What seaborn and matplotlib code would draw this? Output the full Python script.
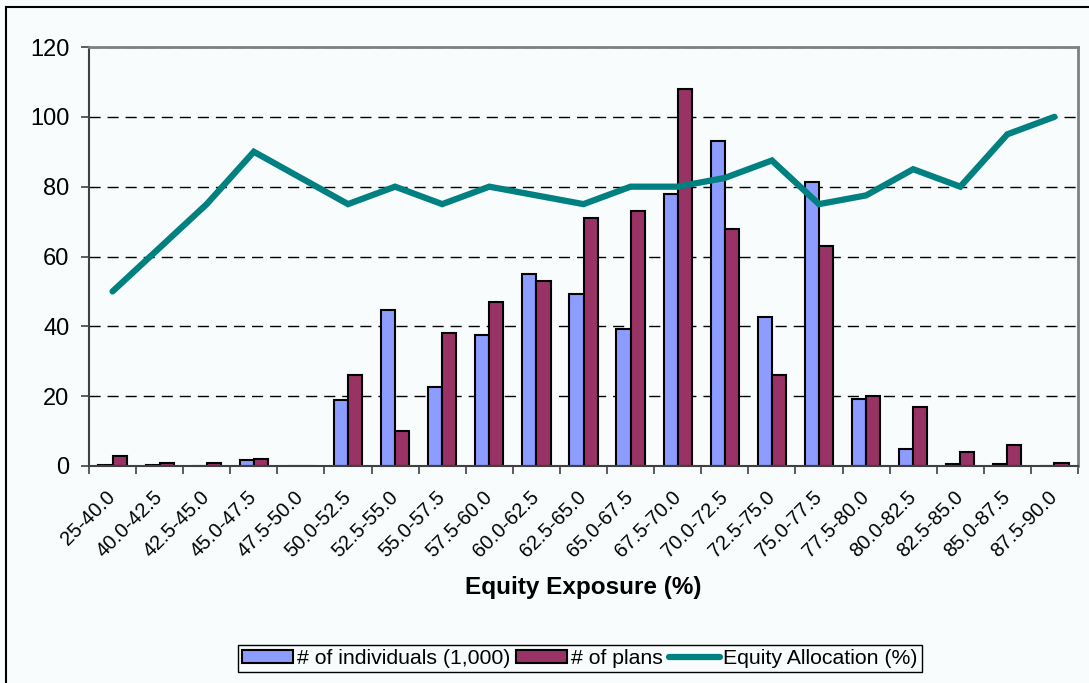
import numpy as np
import pandas as pd
import matplotlib
matplotlib.use("Agg")
import matplotlib.pyplot as plt
import seaborn as sns
from matplotlib.patches import Patch, Rectangle
from matplotlib.lines import Line2D

# Equity exposure buckets (%)
ranges = ["25-40.0", "40.0-42.5", "42.5-45.0", "45.0-47.5", "47.5-50.0",
          "50.0-52.5", "52.5-55.0", "55.0-57.5", "57.5-60.0", "60.0-62.5",
          "62.5-65.0", "65.0-67.5", "67.5-70.0", "70.0-72.5", "72.5-75.0",
          "75.0-77.5", "77.5-80.0", "80.0-82.5", "82.5-85.0", "85.0-87.5",
          "87.5-90.0"]

# Number of individuals (thousands) per bucket
individuals = [0.3, 0.2, 0, 1.6, 0, 19, 44.7, 22.5, 37.5, 55, 49.3, 39.2,
               78, 93, 42.7, 81.3, 19.2, 4.9, 0.5, 0.5, 0]

# Number of plans per bucket
plans = [3, 1, 1, 2, 0, 26, 10, 38, 47, 53, 71, 73,
         108, 68, 26, 63, 20, 17, 4, 6, 1]

# Equity allocation (%) per bucket
allocation = [50, 62.5, 75, 90, 82.5, 75, 80, 75, 80, 77.5, 75, 80,
              80, 82.5, 87.5, 75, 77.5, 85, 80, 95, 100]

series_labels = ["# of individuals (1,000)", "# of plans"]
line_label = "Equity Allocation (%)"

blue = "#8C9CFF"
wine = "#993366"
teal = "#008080"
bg = "#F8FCFC"

sns.set_theme(style="white")
plt.rcParams["font.family"] = ["Liberation Sans", "DejaVu Sans"]
plt.rcParams["text.color"] = "black"
plt.rcParams["axes.labelcolor"] = "black"
plt.rcParams["xtick.color"] = "black"
plt.rcParams["ytick.color"] = "black"

W, H = 1089, 683
fig = plt.figure(figsize=(W / 100, H / 100), dpi=100, facecolor=bg)
ax = fig.add_axes([89 / W, 1 - 466 / H, (1078 - 89) / W, 419 / H])
ax.set_facecolor(bg)

df = pd.DataFrame({
    "range": ranges * 2,
    "series": [series_labels[0]] * len(ranges) + [series_labels[1]] * len(ranges),
    "value": individuals + plans,
})

sns.barplot(data=df, x="range", y="value", hue="series", order=ranges,
            hue_order=series_labels, palette=[blue, wine], saturation=1,
            width=0.6, edgecolor="black", linewidth=1.5, legend=False,
            errorbar=None, ax=ax, zorder=2)

sns.pointplot(x=ranges, y=allocation, order=ranges, color=teal,
              markers="", linestyles="-", errorbar=None, ax=ax)
for ln in ax.lines:
    ln.set_linewidth(4.5)
    ln.set_zorder(3)
    ln.set_solid_capstyle("round")
    ln.set_solid_joinstyle("miter")

ax.set_xlim(-0.5, len(ranges) - 0.5)
ax.set_ylim(0, 120)
ax.set_yticks(np.arange(0, 121, 20))
ax.set_axisbelow(True)
ax.yaxis.grid(True, linestyle=(0, (8, 5)), color="black", linewidth=1)
ax.xaxis.grid(False)

# tick marks between categories, labels centred under each group
ax.set_xticks(np.arange(-0.5, len(ranges), 1), minor=True)
ax.tick_params(axis="x", which="minor", bottom=True, length=6, width=1.2,
               direction="out", color="#404040")
ax.tick_params(axis="x", which="major", length=0, pad=20,
               labelcolor="black")
ax.tick_params(axis="y", left=True, length=6, width=1.2, direction="out",
               color="#404040", labelsize=17, pad=8, labelcolor="black")
ax.set_xticks(np.arange(len(ranges)))
ax.set_xticklabels(ranges, rotation=45, ha="right", va="center",
                   rotation_mode="anchor", fontsize=14.5)

ax.set_ylabel("")
ax.set_xlabel("Equity Exposure (%)", fontsize=17.5, fontweight="bold",
              color="black")
ax.xaxis.label.set_va("center")
ax.xaxis.set_label_coords(0.5, -0.291)

for side in ["left", "bottom"]:
    ax.spines[side].set_color("#404040")
    ax.spines[side].set_linewidth(1.5)
for side in ["top", "right"]:
    ax.spines[side].set_color("#808080")
    ax.spines[side].set_linewidth(2)

# outer chart border
fig.add_artist(Rectangle((6 / W, -0.05), 1.2, 1 - 7 / H + 0.05,
                         transform=fig.transFigure, fill=False,
                         edgecolor="black", linewidth=1.5))

handles = [
    Patch(facecolor=blue, edgecolor="black", linewidth=1.5),
    Patch(facecolor=wine, edgecolor="black", linewidth=1.5),
    Line2D([0], [0], color=teal, linewidth=4.5, solid_capstyle="round"),
]
leg = fig.legend(handles, series_labels + [line_label], loc="center",
                 bbox_to_anchor=(580 / W, 1 - 658.5 / H), ncol=3,
                 fontsize=15.3, handlelength=2.4, handleheight=0.6,
                 handletextpad=0.15, columnspacing=0.3, borderpad=0.2,
                 borderaxespad=0, fancybox=False, frameon=True,
                 edgecolor="black", facecolor=bg, framealpha=1)
leg.get_frame().set_linewidth(1)
for t in leg.get_texts():
    t.set_color("black")

fig.savefig("out.png", dpi=100, facecolor=bg)
